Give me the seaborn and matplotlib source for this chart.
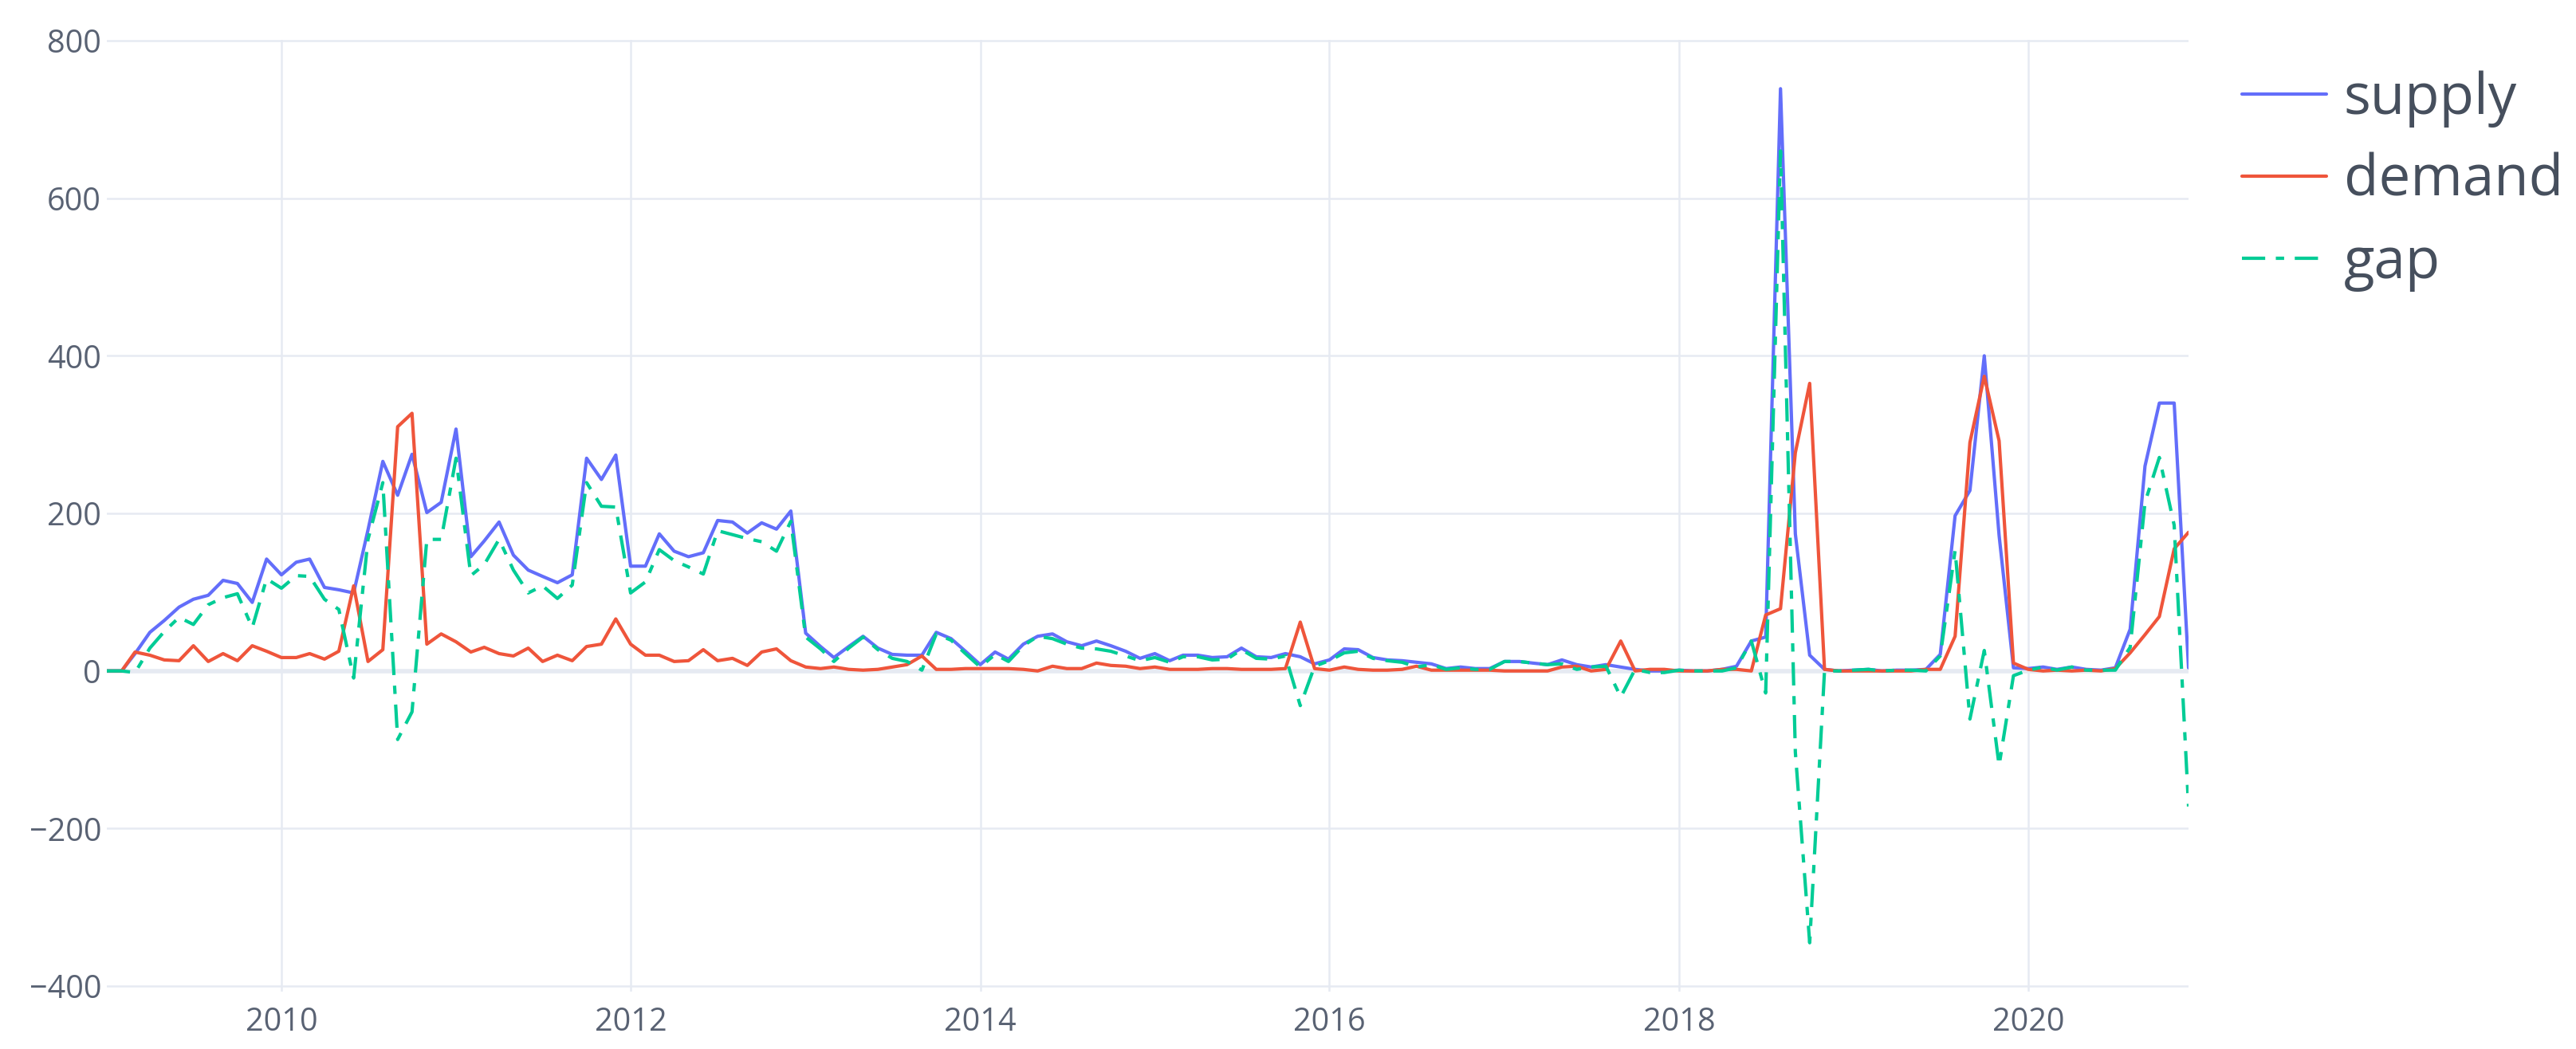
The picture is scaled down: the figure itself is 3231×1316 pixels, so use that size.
import numpy as np
import pandas as pd
import matplotlib
matplotlib.use("Agg")
import matplotlib.pyplot as plt
import matplotlib.dates as mdates
from matplotlib.lines import Line2D
import seaborn as sns

# monthly values, Jan 2009 .. Dec 2020
supply = [
    0, 0, 22, 49, 64, 81, 91, 96, 115, 111, 87, 142,
    122, 138, 142, 106, 103, 99, 179, 266, 223, 275, 201, 214,
    307, 145, 165, 189, 147, 128, 120, 112, 122, 270, 243, 274,
    133, 133, 174, 152, 145, 150, 191, 189, 175, 188, 180, 203,
    48, 31, 17, 31, 44, 29, 21, 20, 20, 49, 41, 25,
    8, 24, 15, 34, 44, 47, 37, 32, 38, 32, 25, 16,
    22, 13, 20, 20, 17, 18, 29, 18, 17, 22, 18, 9,
    14, 28, 27, 17, 14, 13, 11, 9, 3, 5, 3, 3,
    12, 12, 10, 8, 14, 8, 5, 8, 5, 2, 0, 0,
    1, 0, 0, 2, 6, 38, 43, 739, 174, 20, 2, 0,
    1, 2, 0, 1, 1, 2, 21, 197, 229, 400, 172, 4,
    3, 5, 2, 5, 2, 1, 4, 53, 260, 340, 340, 4,
]
demand = [
    0, 0, 24, 20, 14, 13, 32, 12, 22, 13, 32, 25,
    17, 17, 22, 15, 25, 108, 12, 27, 310, 327, 34, 47,
    37, 24, 30, 22, 19, 29, 12, 20, 13, 31, 34, 66,
    34, 20, 20, 12, 13, 27, 13, 16, 7, 24, 28, 13,
    5, 3, 5, 2, 1, 2, 5, 8, 19, 2, 2, 3,
    3, 3, 3, 2, 0, 6, 3, 3, 10, 7, 6, 3,
    5, 2, 2, 2, 3, 3, 2, 2, 2, 3, 62, 3,
    1, 5, 2, 1, 1, 2, 6, 1, 1, 1, 1, 1,
    0, 0, 0, 0, 5, 6, 0, 2, 38, 0, 2, 2,
    0, 0, 0, 2, 2, 0, 71, 79, 277, 365, 2, 0,
    0, 0, 0, 0, 0, 2, 2, 44, 290, 374, 292, 10,
    2, 0, 1, 0, 1, 0, 3, 23, 46, 69, 155, 176,
]
gap = [
    0, 0, -2, 29, 50, 68, 59, 84, 93, 98, 55, 117,
    105, 121, 120, 91, 78, -9, 167, 239, -87, -52, 167, 167,
    270, 121, 135, 167, 128, 99, 108, 92, 109, 239, 209, 208,
    99, 113, 154, 140, 132, 123, 178, 173, 168, 164, 152, 190,
    43, 28, 12, 29, 43, 27, 16, 12, 1, 47, 39, 22,
    5, 21, 12, 32, 44, 41, 34, 29, 28, 25, 19, 13,
    17, 11, 18, 18, 14, 15, 27, 16, 15, 19, -44, 6,
    13, 23, 25, 16, 13, 11, 5, 8, 2, 4, 2, 2,
    12, 12, 10, 8, 9, 2, 5, 6, -33, 2, -2, -2,
    1, 0, 0, 0, 4, 38, -28, 660, -103, -345, 0, 0,
    1, 2, 0, 1, 1, 0, 19, 153, -61, 26, -120, -6,
    1, 5, 1, 5, 1, 1, 1, 30, 214, 271, 185, -172,
]
dates = pd.date_range("2009-01-01", periods=len(supply), freq="MS")
series_names = ["supply", "demand", "gap"]
colors = {"supply": "#636EFA", "demand": "#EF553B", "gap": "#00CC96"}
dash_gap = (7, 3.2, 2.5, 3.2)

df = pd.DataFrame({"date": dates, "supply": supply, "demand": demand, "gap": gap})
long_df = df.melt(id_vars="date", var_name="variable", value_name="value")

sns.set_theme(style="white")
plt.rcParams["font.family"] = ["Open Sans", "DejaVu Sans"]

fig = plt.figure(figsize=(32.31, 13.16), dpi=100)
ax = fig.add_axes([134 / 3231, 1 - 1244 / 1316, (2745 - 134) / 3231, (1244 - 50) / 1316])

grid_color = "#E6EAF2"
tick_color = "#596273"
legend_color = "#464f5d"

sns.lineplot(data=long_df, x="date", y="value", hue="variable", style="variable",
             hue_order=series_names, style_order=series_names, palette=colors,
             dashes={"supply": "", "demand": "", "gap": dash_gap},
             linewidth=3, ax=ax, legend=False, zorder=3)

ax.axhline(0, color=grid_color, lw=4, zorder=1)
ax.set_xlim(dates[0], dates[-1])
ax.set_ylim(-407, 801)
ax.set_yticks(range(-400, 801, 200))
ax.xaxis.set_major_locator(mdates.YearLocator(2))
ax.xaxis.set_major_formatter(mdates.DateFormatter("%Y"))
ax.grid(True, color=grid_color, lw=1.8, zorder=0)
ax.set_axisbelow(True)
for spine in ax.spines.values():
    spine.set_visible(False)
ax.tick_params(axis="both", length=0, labelsize=28.5, labelcolor=tick_color)
ax.tick_params(axis="y", pad=5)
ax.tick_params(axis="x", pad=13)
ax.set_xlabel("")
ax.set_ylabel("")

handles = [
    Line2D([], [], color=colors["supply"], lw=3),
    Line2D([], [], color=colors["demand"], lw=3),
    Line2D([], [], color=colors["gap"], lw=3, linestyle=(0, dash_gap)),
]
leg = fig.legend(handles, series_names, loc="upper left",
                 bbox_to_anchor=(2812 / 3231, 1 - 88 / 1316), frameon=False,
                 fontsize=51, handlelength=1.5, handletextpad=0.3,
                 labelspacing=0.45, borderaxespad=0, borderpad=0)
for t in leg.get_texts():
    t.set_color(legend_color)

fig.savefig("out.png", dpi=100, facecolor="white")
